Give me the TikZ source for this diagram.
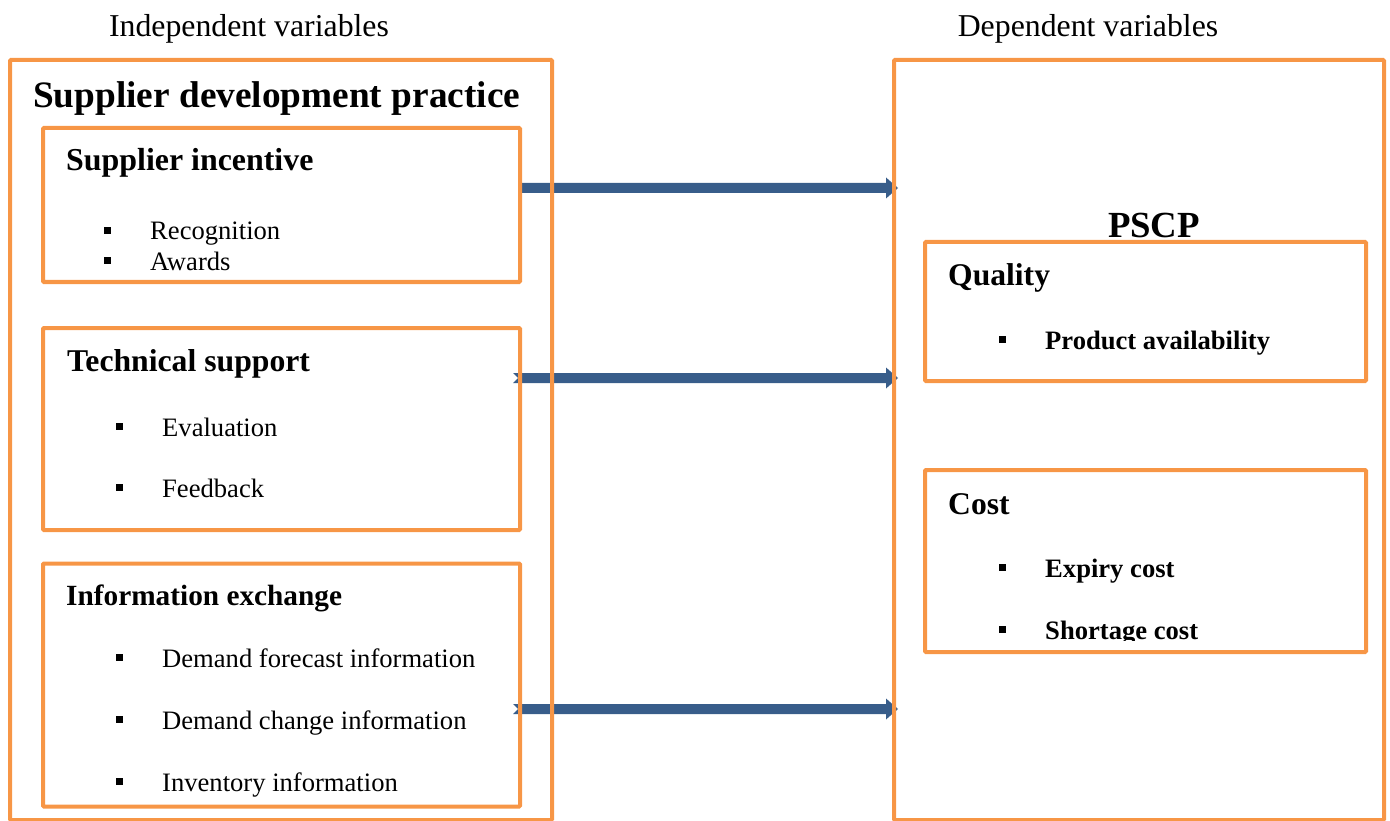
\documentclass[tikz,border=0pt]{standalone}
\usepackage{fontspec}
\setmainfont{Liberation Serif}
\usetikzlibrary{calc}
\definecolor{boxorange}{RGB}{247,150,70}
\definecolor{flowblue}{RGB}{56,93,138}
\newcommand\bul{\makebox[46pt][l]{\rule[6pt]{7pt}{7pt}}}
\newcommand\fs[1]{\fontsize{#1}{1.2\dimexpr#1pt\relax}\selectfont}
% block arrow from #1 to #2; #3 is the depth of the notch in the tail
\newcommand\blockarrow[3]{%
  \fill[flowblue] ($(#1)+(0,-5)$) -- ($(#2)+(-12,-5)$) -- ($(#2)+(-12,-10.5)$)
    -- (#2) -- ($(#2)+(-12,10.5)$) -- ($(#2)+(-12,5)$) -- ($(#1)+(0,5)$)
    -- ($(#1)+(#3,0)$) -- cycle;}
\begin{document}
\begin{tikzpicture}[x=1pt,y=-1pt,
  frame/.style={draw=boxorange,line width=4pt,rounded corners=1pt,inner sep=0pt},
  txt/.style={anchor=base west,inner sep=0pt}]
\useasboundingbox (0,0) rectangle (1390,821);

% arrow end points
\coordinate (a1) at (522,188);
\coordinate (b1) at (898,188);
\coordinate (a2) at (513,378);
\coordinate (b2) at (898,378);
\coordinate (a3) at (513,709);
\coordinate (b3) at (898,709);

% influence arrows (drawn below the frames)
\blockarrow{a1}{b1}{0}
\blockarrow{a2}{b2}{5}
\blockarrow{a3}{b3}{5}

% column headings
\node[anchor=base,inner sep=0pt,font=\fs{31.8}] (hind) at (249,37) {Independent variables};
\node[anchor=base,inner sep=0pt,font=\fs{31.8}] (hdep) at (1088,37) {Dependent variables};

% outer frames
\node[frame,minimum width=542pt,minimum height=760pt] (L) at (281,440) {};
\node[frame,minimum width=490pt,minimum height=760pt] (R) at (1139,440) {};

% inner frames, left
\node[frame,minimum width=477pt,minimum height=154pt] (si) at (281.5,205) {};
\node[frame,minimum width=477pt,minimum height=202pt] (ts) at (281.5,429) {};
\node[frame,minimum width=477pt,minimum height=243pt] (ie) at (281.5,685) {};

% inner frames, right
\node[frame,minimum width=441pt,minimum height=139pt] (q) at (1145.5,311.5) {};
\node[frame,minimum width=441pt,minimum height=182pt] (c) at (1145.5,561) {};

% left texts
\node[txt,font=\fs{37.3}\bfseries] (tsdp) at (33,108) {Supplier development practice};
\node[txt,font=\fs{31.9}\bfseries] (tsi) at (66,171) {Supplier incentive};
\node[txt,font=\fs{26.6}] (t1) at (104,240) {\bul Recognition};
\node[txt,font=\fs{26.6}] (t2) at (104,270) {\bul Awards};
\node[txt,font=\fs{31.7}\bfseries] (tts) at (67,371) {Technical support};
\node[txt,font=\fs{26.6}] (t3) at (116,436) {\bul Evaluation};
\node[txt,font=\fs{26.6}] (t4) at (116,497) {\bul Feedback};
\node[txt,font=\fs{29.3}\bfseries] (tie) at (66,605) {Information exchange};
\node[txt,font=\fs{26.6}] (t5) at (116,667) {\bul Demand forecast information};
\node[txt,font=\fs{26.6}] (t6) at (116,729) {\bul Demand change information};
\node[txt,font=\fs{26.6}] (t7) at (116,791) {\bul Inventory information};

% right texts
\node[anchor=base,inner sep=0pt,font=\fs{36.8}\bfseries] (tpscp) at (1154,238) {PSCP};
\node[txt,font=\fs{31.6}\bfseries] (tq) at (948,285) {Quality};
\node[txt,font=\fs{26.6}\bfseries] (t8) at (999,349) {\bul Product availability};
\node[txt,font=\fs{31.6}\bfseries] (tc) at (948,514) {Cost};
\node[txt,font=\fs{26.6}\bfseries] (t9) at (999,577) {\bul Expiry cost};
\begin{scope}
  \clip (927,472) rectangle (1364,640);
  \node[txt,font=\fs{26.6}\bfseries] (t10) at (999,639) {\bul Shortage cost};
\end{scope}
\end{tikzpicture}
\end{document}
